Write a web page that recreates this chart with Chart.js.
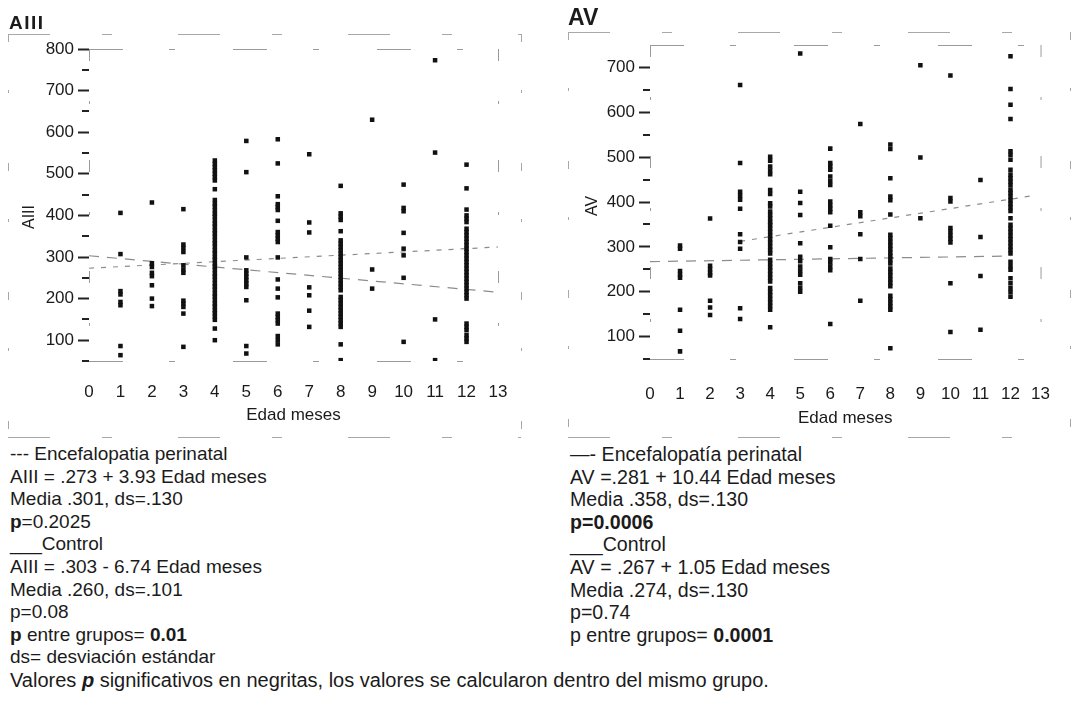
<!DOCTYPE html>
<html lang="es">
<head>
<meta charset="utf-8">
<title>AIII y AV según edad</title>
<script src="https://cdn.jsdelivr.net/npm/chart.js@4.4.1/dist/chart.umd.min.js"></script>
<style>
  html, body { margin: 0; padding: 0; background: #fff; }
  body {
    position: relative; width: 1075px; height: 702px; overflow: hidden;
    font-family: "Liberation Sans", Arial, Helvetica, sans-serif; color: #1b1b1b;
  }
  .panel { position: absolute; top: 0; width: 530px; height: 440px; }
  .titulo { position: absolute; font-weight: bold; white-space: nowrap; }
  .ytit {
    position: absolute; width: 60px; height: 20px; line-height: 20px;
    text-align: center; font-size: 16px; transform: rotate(-90deg);
  }
  .nota { position: absolute; line-height: 22.6px; white-space: nowrap; }
  .nota div { height: 22.6px; }
  b { font-weight: bold; }
</style>
</head>
<body>
<div class="panel" style="left:0"><canvas id="cAIII"></canvas></div>
<div class="panel" style="left:545px"><canvas id="cAV"></canvas></div>

<div class="titulo" style="left:9px;top:13px;font-size:19px;line-height:19px;letter-spacing:1.5px">AIII</div>
<div class="titulo" style="left:568px;top:5.5px;font-size:23px;line-height:23px">AV</div>
<div class="ytit" style="left:-1px;top:207px">AIII</div>
<div class="ytit" style="left:562px;top:196px">AV</div>

<div class="nota" style="left:10px;top:443px;font-size:19px">
  <div>--- Encefalopatia perinatal</div>
  <div>AIII = .273 + 3.93 Edad meses</div>
  <div>Media .301, ds=.130</div>
  <div><b>p</b>=0.2025</div>
  <div>___Control</div>
  <div>AIII = .303 - 6.74 Edad meses</div>
  <div>Media .260, ds=.101</div>
  <div>p=0.08</div>
  <div><b>p</b> entre grupos= <b>0.01</b></div>
  <div>ds= desviación estándar</div>
  <div style="font-size:20px">Valores <b><i>p</i></b> significativos en negritas, los valores se calcularon dentro del mismo grupo.</div>
</div>
<div class="nota" style="left:570px;top:443px;font-size:19.6px">
  <div>—- Encefalopatía perinatal</div>
  <div>AV =.281 + 10.44 Edad meses</div>
  <div>Media .358, ds=.130</div>
  <div><b>p=0.0006</b></div>
  <div>___Control</div>
  <div>AV = .267 + 1.05 Edad meses</div>
  <div>Media .274, ds=.130</div>
  <div>p=0.74</div>
  <div>p entre grupos= <b>0.0001</b></div>
</div>

<script>
// edad en meses (eje x)
const meses = [0, 1, 2, 3, 4, 5, 6, 7, 8, 9, 10, 11, 12, 13];

// valores de AIII por mes de edad (índice = mes)
const aiiiPorMes = [
  [],
  [406, 307, 218, 210, 192, 184, 86, 64],
  [431, 285, 276, 262, 254, 232, 200, 182],
  [415, 330, 322, 312, 280, 270, 262, 195, 188, 180, 164, 84],
  [532, 524, 516, 508, 500, 492, 484, 463, 437, 428, 421, 412, 404, 397, 388, 380, 373, 364,
   357, 349, 340, 333, 325, 316, 309, 300, 293, 284, 277, 269, 260, 253, 245, 236, 229, 221,
   212, 205, 197, 188, 181, 172, 165, 157, 149, 128, 100],
  [579, 504, 299, 268, 260, 252, 244, 236, 228, 196, 86, 68],
  [583, 525, 446, 427, 420, 413, 387, 360, 352, 344, 336, 299, 246, 224, 203, 164, 156, 148,
   140, 110, 100, 90],
  [547, 383, 359, 227, 208, 171, 132],
  [471, 405, 397, 389, 362, 340, 332, 324, 316, 308, 300, 292, 284, 276, 268, 260, 252, 244,
   236, 228, 220, 204, 196, 188, 180, 172, 164, 156, 148, 140, 132, 90, 52],
  [630, 270, 224],
  [474, 418, 410, 358, 320, 304, 250, 96],
  [773, 551, 150, 52],
  [522, 465, 414, 400, 392, 384, 368, 360, 352, 344, 336, 328, 320, 312, 304, 296, 288, 280,
   272, 264, 256, 248, 240, 232, 224, 216, 208, 200, 140, 132, 124, 112, 104, 96],
  []
];

// valores de AV por mes de edad
const avPorMes = [
  [],
  [303, 296, 246, 238, 231, 160, 113, 67],
  [363, 258, 250, 242, 236, 180, 165, 148],
  [661, 487, 423, 414, 405, 385, 328, 311, 296, 163, 139],
  [501, 492, 479, 470, 462, 427, 418, 397, 390, 379, 371, 363, 355, 349, 341, 333, 325, 317,
   309, 301, 293, 285, 271, 263, 255, 247, 239, 231, 223, 208, 200, 192, 184, 176, 168, 160, 121],
  [731, 423, 398, 371, 308, 278, 268, 256, 247, 238, 219, 209, 200],
  [519, 487, 480, 472, 457, 447, 438, 401, 393, 385, 377, 347, 299, 273, 265, 256, 248, 128],
  [574, 377, 368, 328, 273, 180],
  [528, 518, 453, 412, 404, 372, 327, 319, 311, 303, 295, 287, 279, 271, 263, 252, 244, 236,
   228, 220, 212, 191, 183, 175, 167, 160, 74],
  [705, 499, 364],
  [682, 409, 401, 342, 334, 326, 318, 310, 219, 110],
  [449, 322, 235, 115],
  [725, 652, 617, 585, 513, 505, 494, 472, 461, 453, 445, 437, 427, 420, 412, 404, 396, 388,
   380, 364, 349, 341, 333, 325, 317, 309, 301, 293, 285, 267, 257, 249, 230, 219, 208, 199, 189],
  []
];

// rectas de regresión (extremos), de las ecuaciones de la nota
const aiiiEncefalopatia = [{ x: 0, y: 273 }, { x: 13, y: 324.1 }];
const aiiiControl = [{ x: 0, y: 303 }, { x: 13, y: 215.4 }];
const avEncefalopatia = [{ x: 3, y: 312.3 }, { x: 12.7, y: 413.6 }];
const avControl = [{ x: 0, y: 267 }, { x: 12, y: 279.6 }];

const fuente = '"Liberation Sans", Arial, Helvetica, sans-serif';

function puntos(porMes) {
  return porMes.flatMap((vals, i) => vals.map(v => ({ x: meses[i], y: v })));
}

function linea(ctx, x0, y0, x1, y1) {
  ctx.beginPath();
  ctx.moveTo(x0, y0);
  ctx.lineTo(x1, y1);
  ctx.stroke();
}

// marcos entrecortados (área del gráfico y recuadro exterior) y marcas menores del eje y
const marcos = {
  id: 'marcos',
  afterDraw(chart, args, opts) {
    const { ctx, chartArea: a, scales: { y } } = chart;
    ctx.save();
    ctx.lineWidth = 1;
    ctx.strokeStyle = '#9a9a9a';
    // horizontales: trazos largos con huecos
    ctx.setLineDash([34, 46, 6, 58]);
    linea(ctx, a.left, a.top + 0.5, a.right, a.top + 0.5);
    linea(ctx, a.left, a.bottom + 0.5, a.right, a.bottom + 0.5);
    // verticales: apenas fragmentos
    ctx.setLineDash([12, 40, 3, 56]);
    linea(ctx, a.left + 0.5, a.top, a.left + 0.5, a.bottom);
    linea(ctx, a.right + 0.5, a.top, a.right + 0.5, a.bottom);
    const e = opts.exterior;
    ctx.strokeStyle = '#a8a8a8';
    ctx.setLineDash([42, 52, 10, 66]);
    linea(ctx, e[0], e[1] + 0.5, e[2], e[1] + 0.5);
    linea(ctx, e[0], e[3] + 0.5, e[2], e[3] + 0.5);
    ctx.setLineDash([8, 48, 3, 70]);
    linea(ctx, e[0] + 0.5, e[1], e[0] + 0.5, e[3]);
    linea(ctx, e[2] + 0.5, e[1], e[2] + 0.5, e[3]);
    // marcas menores cada 100, desplazadas 50
    ctx.setLineDash([]);
    ctx.strokeStyle = '#222';
    ctx.lineWidth = 2;
    for (let v = y.min; v < y.max; v += 100) {
      const py = Math.round(y.getPixelForValue(v));
      linea(ctx, a.left - 7, py, a.left, py);
    }
    ctx.restore();
  }
};

function crearPanel(id, p) {
  const canvas = document.getElementById(id);
  canvas.width = 530;
  canvas.height = 440;
  return new Chart(canvas, {
    type: 'scatter',
    data: {
      datasets: [
        {
          data: puntos(p.valores),
          pointStyle: 'rect',
          pointRadius: 3.2,
          backgroundColor: '#111',
          borderWidth: 0
        },
        {
          type: 'line',
          data: p.encefalopatia,
          borderColor: '#8c8c8c',
          borderWidth: 1.2,
          borderDash: [5, 7],
          pointRadius: 0,
          fill: false
        },
        {
          type: 'line',
          data: p.control,
          borderColor: '#8c8c8c',
          borderWidth: 1.2,
          borderDash: [10, 8],
          pointRadius: 0,
          fill: false
        }
      ]
    },
    options: {
      responsive: false,
      animation: false,
      events: [],
      layout: { padding: p.padding },
      plugins: {
        legend: { display: false },
        tooltip: { enabled: false },
        marcos: { exterior: p.exterior }
      },
      scales: {
        x: {
          type: 'linear',
          min: 0,
          max: 13,
          afterFit: s => { s.height = p.altoX; },
          border: { display: false },
          grid: { display: false, drawTicks: false },
          ticks: {
            stepSize: 1, autoSkip: false, maxRotation: 0, padding: p.padX,
            color: '#1a1a1a', font: { family: fuente, size: 17 }
          },
          title: {
            display: true, text: 'Edad meses', color: '#1a1a1a',
            font: { family: fuente, size: 17 }, padding: { top: 0, bottom: p.padTitulo }
          }
        },
        y: {
          min: 50,
          max: p.maxY,
          afterFit: s => { s.width = p.anchoY; },
          border: { display: false },
          grid: {
            drawOnChartArea: false, tickLength: 11, tickWidth: 2,
            tickColor: c => (c.tick && c.tick.value % 100 === 0 ? '#222' : 'rgba(0,0,0,0)')
          },
          ticks: {
            stepSize: 50, autoSkip: false, padding: 4, color: '#1a1a1a',
            font: { family: fuente, size: 17 },
            callback: v => (v % 100 === 0 ? v : '')
          }
        }
      }
    },
    plugins: [marcos]
  });
}

crearPanel('cAIII', {
  valores: aiiiPorMes,
  encefalopatia: aiiiEncefalopatia,
  control: aiiiControl,
  maxY: 800,
  anchoY: 89,
  altoX: 70,
  padX: 21,
  padTitulo: 5,
  padding: { top: 49, right: 32, bottom: 9, left: 0 },
  exterior: [8, 34, 521, 437]
});

crearPanel('cAV', {
  valores: avPorMes,
  encefalopatia: avEncefalopatia,
  control: avControl,
  maxY: 750,
  anchoY: 105,
  altoX: 72,
  padX: 25,
  padTitulo: 2,
  padding: { top: 45, right: 13, bottom: 9, left: 0 },
  exterior: [23, 32, 525, 437]
});
</script>
</body>
</html>
